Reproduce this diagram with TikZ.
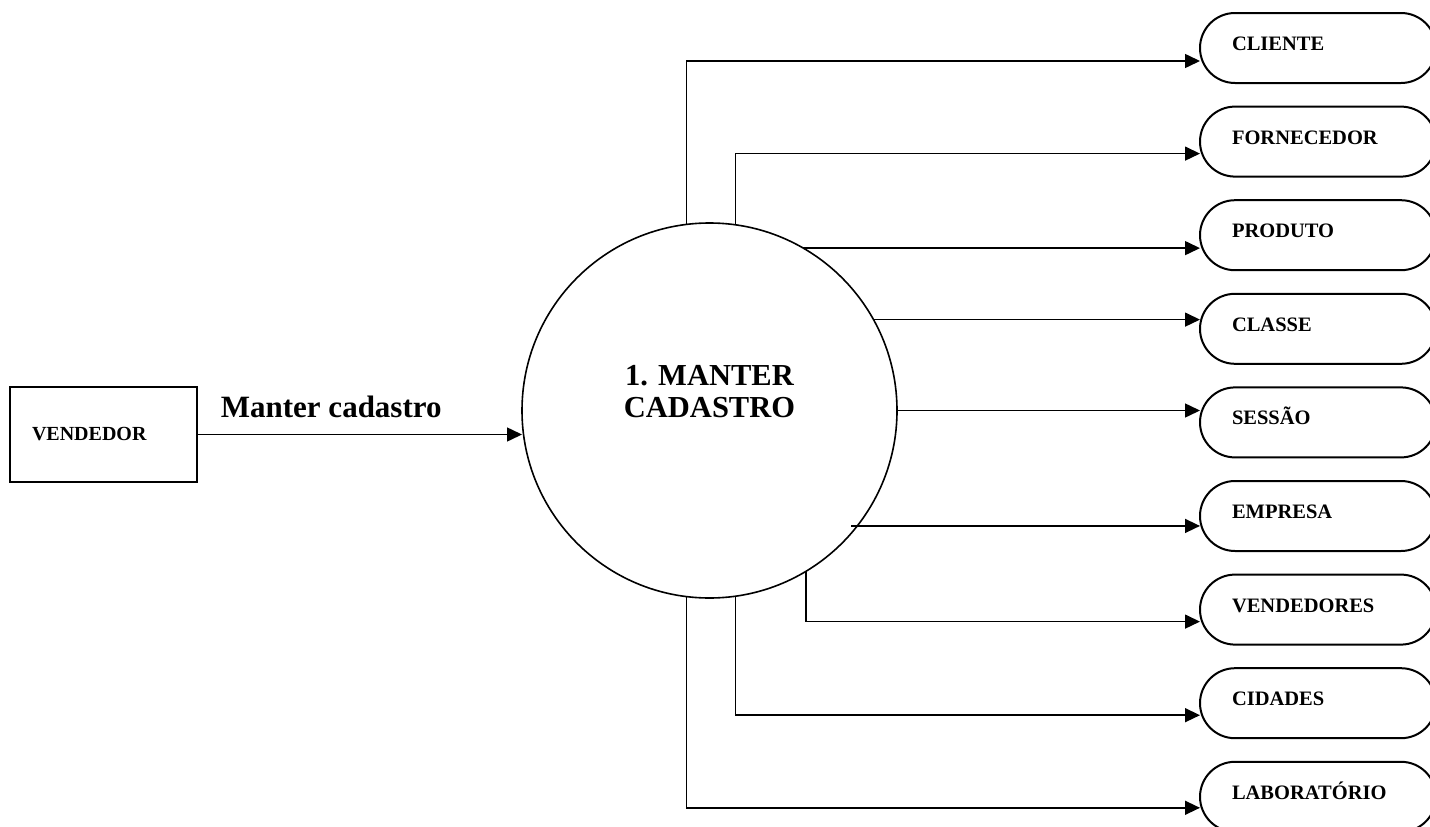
\documentclass[tikz,border=0pt]{standalone}
\usepackage{fontspec}
\setmainfont{Liberation Serif}
\usepackage{tikz}
\usetikzlibrary{
  arrows.meta,
  positioning
}
\tikzset{
  flow/.style={
    draw,
    line width=1.5pt,
    -{Triangle[length=15pt,width=14pt]}
  },
  store/.style={
    draw,
    line width=2pt,
    rounded corners=35pt,
    outer sep=0pt,
    minimum width=236pt,
    minimum height=70pt,
    text width=172pt,
    inner xsep=32pt,
    align=left,
    text height=14pt,
    text depth=9pt,
    font=\bfseries\fontsize{20.5}{24}\selectfont
  },
  entity/.style={
    draw,
    line width=1.6pt,
    outer sep=0pt,
    minimum width=187pt,
    minimum height=95pt,
    text width=143pt,
    inner xsep=22pt,
    align=left,
    font=\bfseries\fontsize{20}{24}\selectfont
  },
  process/.style={
    draw,
    circle,
    line width=1.6pt,
    inner sep=0pt,
    outer sep=0pt,
    minimum size=375pt
  }
}

\begin{document}
\begin{tikzpicture}[
    x=1pt, y=-1pt,
    node distance=23.6pt
    ]
  \useasboundingbox (0,0) rectangle (1430,827);
  \node[entity] (vend) at (103.5,434.5) {VENDEDOR};
  \node[process,
    label={[font=\bfseries\fontsize{30.5}{32}\selectfont, align=center, yshift=18.5pt]center:1. MANTER\\CADASTRO}
    ] (proc) at (709.5,410.5) {};
  \node[store, anchor=west] (cliente) at (1200,48) {CLIENTE};
  \node[store, below=of cliente] (fornecedor) {FORNECEDOR};
  \node[store, below=of fornecedor] (produto) {PRODUTO};
  \node[store, below=of produto] (classe) {CLASSE};
  \node[store, below=of classe] (sessao) {SESSÃO};
  \node[store, below=of sessao] (empresa) {EMPRESA};
  \node[store, below=of empresa] (vendedores) {VENDEDORES};
  \node[store, below=of vendedores] (cidades) {CIDADES};
  \node[store, below=of cidades] (laboratorio) {LABORATÓRIO};

  \draw[flow] (vend.east) -- (vend.east -| proc.west)
    node[pos=0.413, above=16pt, inner sep=0pt, font=\bfseries\fontsize{31}{34}\selectfont] {Manter cadastro};
  \draw[flow] (proc.97) |- ([yshift=-13pt]cliente.west);
  \draw[flow] (proc.82.5) |- ([yshift=-12pt]fornecedor.west);
  \draw[flow] (proc.60) -- (proc.60 -| produto.west);
  \draw[flow] (proc.29.5) -- (proc.29.5 -| classe.west);
  \draw[flow] (proc.east) -- (proc.east -| sessao.west);
  \draw[flow] ([xshift=-6pt]proc.-38.8) -- (proc.-38.8 -| empresa.west);
  \draw[flow] (proc.-59.7) |- ([yshift=-12pt]vendedores.west);
  \draw[flow] (proc.-82.5) |- ([yshift=-12pt]cidades.west);
  \draw[flow] (proc.-97) |- ([yshift=-11pt]laboratorio.west);
\end{tikzpicture}
\end{document}
